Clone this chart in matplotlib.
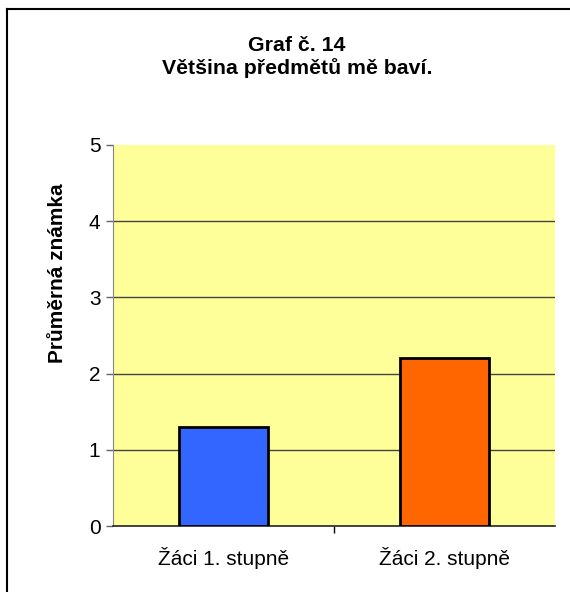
import matplotlib
matplotlib.use("Agg")
import matplotlib.pyplot as plt
from matplotlib.lines import Line2D

plt.rcParams['font.family'] = ['Liberation Sans', 'DejaVu Sans']

# data
categories = ["Žáci 1. stupně", "Žáci 2. stupně"]
values = [1.3, 2.2]
colors = ["#3366FF", "#FF6600"]
title = "Graf č. 14\nVětšina předmětů mě baví."
ylabel = "Průměrná známka"

fig = plt.figure(figsize=(5.7, 5.92), dpi=100)
ax = fig.add_axes([113 / 570, 1 - 526 / 592, 442 / 570, 381 / 592])
ax.set_facecolor("#FFFF99")

x = range(len(categories))
ax.bar(x, values, width=0.4, color=colors, edgecolor="black", linewidth=2.0, zorder=3)

ax.set_xlim(-0.5, 1.5)
ax.set_ylim(0, 5)
ax.set_yticks([0, 1, 2, 3, 4, 5])
for g in [1, 2, 3, 4]:
    ax.axhline(g, color="#444444", linewidth=1.0, zorder=1)

ax.set_xticks(list(x))
ax.set_xticklabels(categories, fontsize=15)
ax.tick_params(axis="x", which="major", length=0, pad=15)
ax.set_xticks([0.5], minor=True)
ax.tick_params(axis="x", which="minor", length=5, width=1, color="black", direction="out")
ax.tick_params(axis="y", labelsize=15, length=5, width=1, color="#666666", pad=4)

for s in ["top", "right"]:
    ax.spines[s].set_visible(False)
ax.spines["left"].set_color("#888888")
ax.spines["bottom"].set_color("#222222")
ax.spines["bottom"].set_linewidth(1.2)

fig.text(297 / 570, 1 - 57 / 592, title, ha="center", va="center", fontsize=15.3,
         fontweight="bold", linespacing=1.25)
fig.text(58 / 570, 1 - 273 / 592, ylabel, rotation=90, ha="center", va="center",
         fontsize=15, fontweight="bold")

# chart border (left and top edges)
fig.add_artist(Line2D([7 / 570, 7 / 570], [0, 1 - 9 / 592], color="black", linewidth=1.5,
                      transform=fig.transFigure))
fig.add_artist(Line2D([7 / 570, 1], [1 - 9 / 592, 1 - 9 / 592], color="black", linewidth=1.5,
                      transform=fig.transFigure))

fig.savefig("out.png", dpi=100)
